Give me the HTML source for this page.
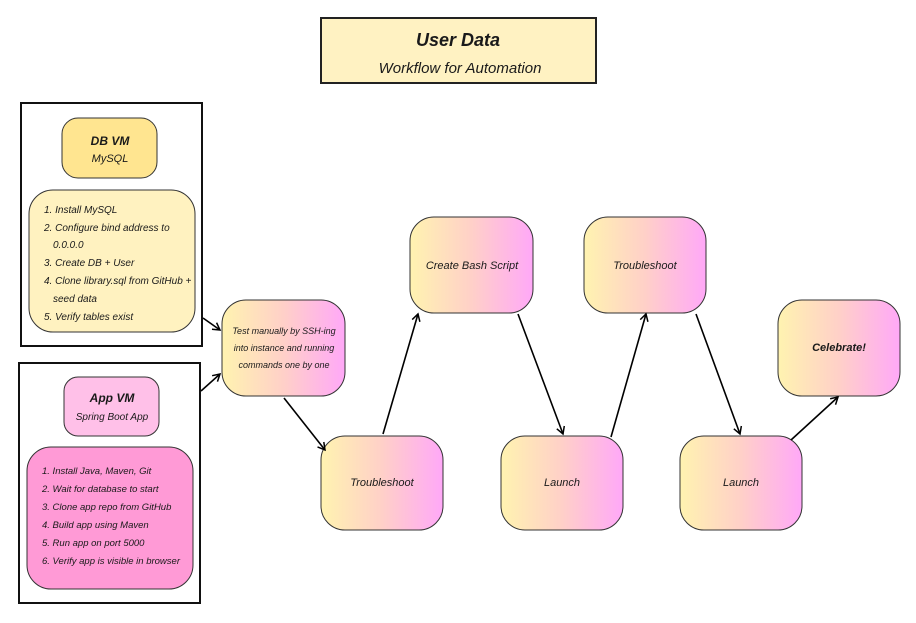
<!DOCTYPE html>
<html><head><meta charset="utf-8"><style>
html,body{margin:0;padding:0;background:#fff;width:916px;height:623px;overflow:hidden}
text{font-family:"Liberation Sans",sans-serif;font-style:italic;fill:#1a1a1a}
</style></head><body>
<svg width="916" height="623" viewBox="0 0 916 623" xmlns="http://www.w3.org/2000/svg">
<defs>
<linearGradient id="g" x1="0" y1="0" x2="1" y2="0">
<stop offset="0" stop-color="#fff3b0"/><stop offset="0.5" stop-color="#ffd0c8"/><stop offset="1" stop-color="#ffa8f8"/>
</linearGradient>
<marker id="a" markerWidth="10" markerHeight="10" refX="8" refY="5" orient="auto" markerUnits="userSpaceOnUse">
<path d="M1,1 L8,5 L1,9" fill="none" stroke="#000" stroke-width="1.5"/>
</marker>
</defs>
<!-- title -->
<rect x="321" y="18" width="275" height="65" fill="#fff2c2" stroke="#222" stroke-width="2"/>
<text x="458" y="46" text-anchor="middle" font-size="18" font-weight="bold">User Data</text>
<text x="460" y="73" text-anchor="middle" font-size="15">Workflow for Automation</text>
<!-- DB group -->
<rect x="21" y="103" width="181" height="243" fill="#fff" stroke="#111" stroke-width="2"/>
<rect x="62" y="118" width="95" height="60" rx="16" fill="#ffe590" stroke="#333"/>
<text x="110" y="145" text-anchor="middle" font-size="12" font-weight="bold">DB VM</text>
<text x="110" y="162" text-anchor="middle" font-size="11">MySQL</text>
<rect x="29" y="190" width="166" height="142" rx="24" fill="#fff2c0" stroke="#333"/>
<g font-size="10">
<text x="44" y="213">1. Install MySQL</text>
<text x="44" y="231">2. Configure bind address to</text>
<text x="53" y="248">0.0.0.0</text>
<text x="44" y="266">3. Create DB + User</text>
<text x="44" y="284">4. Clone library.sql from GitHub +</text>
<text x="53" y="302">seed data</text>
<text x="44" y="320">5. Verify tables exist</text>
</g>
<!-- App group -->
<rect x="19" y="363" width="181" height="240" fill="#fff" stroke="#111" stroke-width="2"/>
<rect x="64" y="377" width="95" height="59" rx="14" fill="#ffc0e8" stroke="#333"/>
<text x="112" y="402" text-anchor="middle" font-size="12" font-weight="bold">App VM</text>
<text x="112" y="420" text-anchor="middle" font-size="10">Spring Boot App</text>
<rect x="27" y="447" width="166" height="142" rx="24" fill="#ff9ad6" stroke="#333"/>
<g font-size="9.5">
<text x="42" y="474">1. Install Java, Maven, Git</text>
<text x="42" y="492">2. Wait for database to start</text>
<text x="42" y="510">3. Clone app repo from GitHub</text>
<text x="42" y="528">4. Build app using Maven</text>
<text x="42" y="546">5. Run app on port 5000</text>
<text x="42" y="564">6. Verify app is visible in browser</text>
</g>
<!-- flow nodes -->
<g stroke="#333" fill="url(#g)">
<rect x="222" y="300" width="123" height="96" rx="24"/>
<rect x="321" y="436" width="122" height="94" rx="24"/>
<rect x="410" y="217" width="123" height="96" rx="24"/>
<rect x="584" y="217" width="122" height="96" rx="24"/>
<rect x="501" y="436" width="122" height="94" rx="24"/>
<rect x="680" y="436" width="122" height="94" rx="24"/>
<rect x="778" y="300" width="122" height="96" rx="24"/>
</g>
<g font-size="9" text-anchor="middle">
<text x="284" y="334">Test manually by SSH-ing</text>
<text x="284" y="351">into instance and running</text>
<text x="284" y="368">commands one by one</text>
</g>
<g font-size="11" text-anchor="middle">
<text x="382" y="486">Troubleshoot</text>
<text x="472" y="269">Create Bash Script</text>
<text x="645" y="269">Troubleshoot</text>
<text x="562" y="486">Launch</text>
<text x="741" y="486">Launch</text>
<text x="839" y="351" font-weight="bold">Celebrate!</text>
</g>
<!-- arrows -->
<g stroke="#000" stroke-width="1.6" fill="none" marker-end="url(#a)">
<line x1="203" y1="318" x2="220" y2="330"/>
<line x1="201" y1="391" x2="220" y2="374"/>
<line x1="284" y1="398" x2="325" y2="450"/>
<line x1="383" y1="434" x2="418" y2="314"/>
<line x1="518" y1="314" x2="563" y2="434"/>
<line x1="611" y1="437" x2="646" y2="314"/>
<line x1="696" y1="314" x2="740" y2="434"/>
<line x1="791" y1="440" x2="838" y2="397"/>
</g>
</svg>
</body></html>
